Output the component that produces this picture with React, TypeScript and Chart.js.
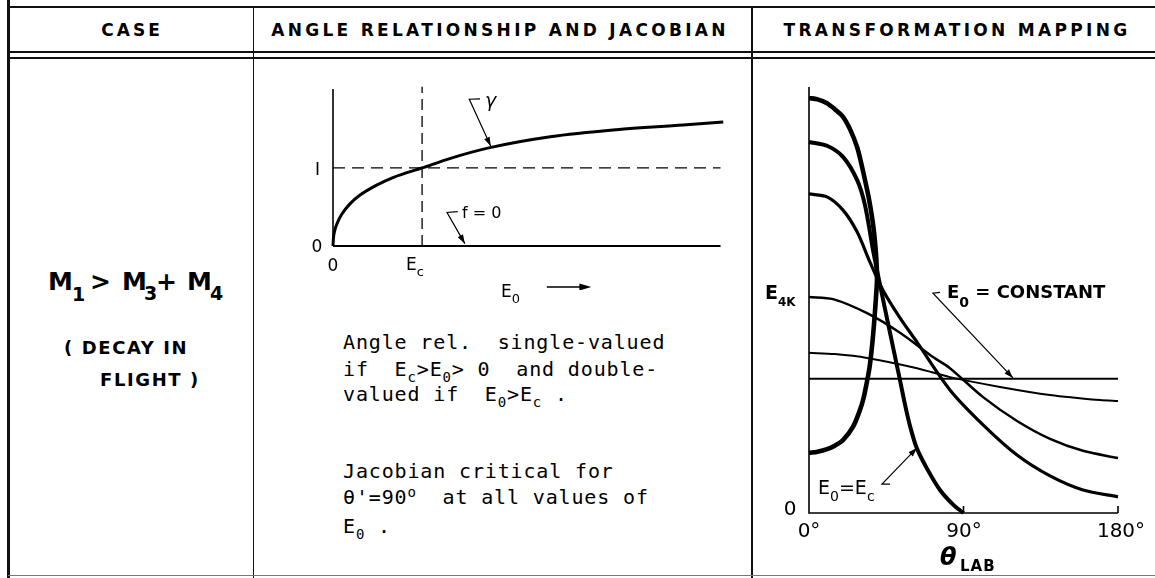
import React, { useEffect, useRef } from "react";
import { Chart, registerables } from "chart.js";
Chart.register(...registerables);

// ---------- Middle chart: gamma vs E0 (E0 in units of Ec) ----------
const gammaE0 = [0, 0.005, 0.02, 0.05, 0.1, 0.19, 0.3, 0.49, 0.68, 1.0, 1.31, 1.76, 2.44, 3.18, 3.93, 4.38];
const gammaVals = [0, 0.1, 0.2, 0.3, 0.41, 0.54, 0.65, 0.78, 0.88, 1.0, 1.12, 1.26, 1.4, 1.49, 1.55, 1.59];
const fZeroE0 = [0, 4.35];
const fZeroVals = [0, 0];
const unityE0 = [0, 4.35];
const unityVals = [1, 1];
const ecLineE0 = [1, 1];
const ecLineVals = [0, 2.04];
const midYAxisTop = 2.01;
const midXMax = 4.4;
const midYMax = 2.05;
// leaders (data units): [start of bar, end of bar], pointer from bar start to tip
const gammaLeaderBar = [[1.53, 1.88], [1.65, 1.885]];
const gammaLeaderTip = [1.77, 1.28];
const fLeaderBar = [[1.28, 0.43], [1.4, 0.44]];
const fLeaderTip = [1.48, 0.03];
const e0ArrowFrom = 2.4;
const e0ArrowTo = 2.9;

// ---------- Right chart: E4K vs theta_LAB ----------
const thetaA = [0, 5, 10.5, 15, 19.8, 24, 28, 30.5, 32.6, 34.8, 36.7, 38, 39, 39.5, 39.6, 39.0, 37.8, 36.5, 35.2, 33.6, 31.8, 29.7, 25.6, 19.8, 15, 10.5, 5, 0];
const energyA = [97.4, 97.1, 96.2, 94.8, 93.0, 90.0, 85.9, 82.0, 78.2, 74.0, 69.5, 65.5, 61.0, 57.5, 54.7, 50.5, 44.0, 38.3, 34.0, 30.5, 27.0, 24.2, 20.2, 17.1, 15.8, 15.0, 14.4, 14.1];
const thetaB = [0, 10.5, 19.8, 28.0, 32.6, 37.3, 41.4, 46.0, 53.0, 55.9, 58.8, 62.7, 68.5, 76.3, 84.1, 90];
const energyB = [87.1, 86.2, 83.6, 78.2, 72.3, 61.7, 53.5, 44.6, 31.2, 25.5, 20.5, 15.3, 10.6, 5.4, 1.9, 0];
const thetaC = [0, 10.5, 19.8, 28.0, 35.5, 43.1, 53.0, 62.9, 82.1, 101.4, 121.2, 140.4, 159.6, 180];
const energyC = [74.9, 74.2, 71.1, 66.0, 58.9, 52.3, 45.8, 40.1, 28.9, 20.7, 13.6, 8.7, 5.4, 3.8];
const thetaD = [0, 14.0, 33.8, 53.0, 72.2, 82.1, 101.4, 121.2, 140.4, 159.6, 180];
const energyD = [50.7, 50.2, 46.9, 42.3, 36.6, 34.0, 27.2, 21.6, 17.4, 14.6, 12.9];
const thetaE = [0, 15.1, 33.8, 62.9, 82.1, 111.3, 140.4, 169.5, 180];
const energyE = [37.6, 37.3, 36.4, 34.0, 31.9, 29.6, 27.7, 26.5, 26.3];
const thetaF = [0, 180];
const energyF = [31.5, 31.5];
const rightXMax = 180;
const rightYMax = 100;
const rightTickAngles = [90, 180];
const constLeaderBar = [[72.2, 51.6], [76.3, 51.8]];
const constLeaderTip = [118.8, 31.7];
const ecLeaderBar = [[42.5, 6.8], [47.2, 6.8]];
const ecLeaderTip = [62.9, 15.3];

const pts = (xs: number[], ys: number[]) => xs.map((x, i) => ({ x, y: ys[i] }));

function arrowHead(ctx: CanvasRenderingContext2D, x0: number, y0: number, x1: number, y1: number, len = 9, half = 3) {
  const a = Math.atan2(y1 - y0, x1 - x0);
  ctx.beginPath();
  ctx.moveTo(x1, y1);
  ctx.lineTo(x1 - len * Math.cos(a) + half * Math.sin(a), y1 - len * Math.sin(a) - half * Math.cos(a));
  ctx.lineTo(x1 - len * Math.cos(a) - half * Math.sin(a), y1 - len * Math.sin(a) + half * Math.cos(a));
  ctx.closePath();
  ctx.fill();
}

function drawLeader(chart: any, bar: number[][], tip: number[]) {
  const { ctx, scales } = chart;
  const px = (v: number[]) => [scales.x.getPixelForValue(v[0]), scales.y.getPixelForValue(v[1])];
  const b0 = px(bar[0]);
  const b1 = px(bar[1]);
  const t = px(tip);
  ctx.save();
  ctx.strokeStyle = "#000";
  ctx.fillStyle = "#000";
  ctx.lineWidth = 1.2;
  ctx.beginPath();
  ctx.moveTo(b1[0], b1[1]);
  ctx.lineTo(b0[0], b0[1]);
  ctx.lineTo(t[0], t[1]);
  ctx.stroke();
  arrowHead(ctx, b0[0], b0[1], t[0], t[1]);
  ctx.restore();
}

const midPlugin = {
  id: "midDecor",
  afterDatasetsDraw(chart: any) {
    const { ctx, scales } = chart;
    const x0 = scales.x.getPixelForValue(0);
    ctx.save();
    ctx.strokeStyle = "#000";
    ctx.fillStyle = "#000";
    ctx.lineWidth = 1.6;
    ctx.beginPath();
    ctx.moveTo(x0, scales.y.getPixelForValue(0));
    ctx.lineTo(x0, scales.y.getPixelForValue(midYAxisTop));
    ctx.stroke();
    // E0 direction arrow below the axis
    const ay = chart.chartArea.bottom + 41;
    const ax0 = scales.x.getPixelForValue(e0ArrowFrom);
    const ax1 = scales.x.getPixelForValue(e0ArrowTo);
    ctx.lineWidth = 1.3;
    ctx.beginPath();
    ctx.moveTo(ax0, ay);
    ctx.lineTo(ax1 - 6, ay);
    ctx.stroke();
    arrowHead(ctx, ax0, ay, ax1, ay, 12, 3.5);
    ctx.restore();
    drawLeader(chart, gammaLeaderBar, gammaLeaderTip);
    drawLeader(chart, fLeaderBar, fLeaderTip);
  },
};

const rightPlugin = {
  id: "rightDecor",
  beforeDatasetsDraw(chart: any) {
    const { ctx, scales } = chart;
    const x0 = scales.x.getPixelForValue(0);
    const y0 = scales.y.getPixelForValue(0);
    ctx.save();
    ctx.strokeStyle = "#000";
    ctx.lineWidth = 1.6;
    ctx.beginPath();
    ctx.moveTo(x0, scales.y.getPixelForValue(rightYMax));
    ctx.lineTo(x0, y0);
    ctx.lineTo(scales.x.getPixelForValue(rightXMax), y0);
    ctx.stroke();
    rightTickAngles.forEach((a) => {
      const xp = scales.x.getPixelForValue(a);
      ctx.beginPath();
      ctx.moveTo(xp, y0);
      ctx.lineTo(xp, y0 - 7);
      ctx.stroke();
    });
    ctx.restore();
  },
  afterDatasetsDraw(chart: any) {
    drawLeader(chart, constLeaderBar, constLeaderTip);
    drawLeader(chart, ecLeaderBar, ecLeaderTip);
  },
};

const line = (label: string, data: any[], width: number, extra: any = {}) => ({
  label,
  data,
  showLine: true,
  borderColor: "#000",
  backgroundColor: "#000",
  borderWidth: width,
  pointRadius: 0,
  tension: 0.3,
  clip: false,
  fill: false,
  ...extra,
});

type LP = { x: number; y: number; size?: number; bold?: boolean; mono?: boolean; ls?: number; anchor?: "left" | "center"; italic?: boolean; children?: any };
const L = ({ x, y, size = 17, bold = false, mono = false, ls = 0, anchor = "left", italic = false, children }: LP) => (
  <div
    style={{
      position: "absolute",
      left: x,
      top: y,
      transform: anchor === "center" ? "translate(-50%,-50%)" : "translate(0,-50%)",
      fontFamily: mono ? "'DejaVu Sans Mono', monospace" : "'DejaVu Sans', sans-serif",
      fontSize: size,
      fontWeight: bold ? "bold" : "normal",
      fontStyle: italic ? "italic" : "normal",
      letterSpacing: ls,
      whiteSpace: "pre",
      lineHeight: 1,
      color: "#000",
    }}
  >
    {children}
  </div>
);
const Sub = ({ s, dy, children, ls }: { s: number; dy: number; children: any; ls?: number }) => (
  <span style={{ fontSize: s, position: "relative", top: dy, letterSpacing: ls }}>{children}</span>
);

const Rule = ({ l, t, w, h, c = "#111" }: { l: number; t: number; w: number; h: number; c?: string }) => (
  <div style={{ position: "absolute", left: l, top: t, width: w, height: h, background: c }} />
);

export default function App() {
  const midRef = useRef<HTMLCanvasElement>(null);
  const rightRef = useRef<HTMLCanvasElement>(null);

  useEffect(() => {
    const mid = new Chart(midRef.current!, {
      type: "scatter",
      data: {
        datasets: [
          line("γ", pts(gammaE0, gammaVals), 3, { cubicInterpolationMode: "monotone" }),
          line("f = 0", pts(fZeroE0, fZeroVals), 2.2, { tension: 0 }),
          line("γ = 1", pts(unityE0, unityVals), 1.3, { tension: 0, borderDash: [12, 7] }),
          line("E0 = Ec", pts(ecLineE0, ecLineVals), 1.3, { tension: 0, borderDash: [11, 6] }),
        ],
      },
      options: {
        animation: false,
        responsive: false,
        devicePixelRatio: 1,
        layout: { padding: { left: 73, right: 25, top: 26, bottom: 44 } },
        plugins: { legend: { display: false }, tooltip: { enabled: false } },
        scales: {
          x: { type: "linear", display: false, min: 0, max: midXMax },
          y: { type: "linear", display: false, min: 0, max: midYMax },
        },
      },
      plugins: [midPlugin],
    });
    const right = new Chart(rightRef.current!, {
      type: "scatter",
      data: {
        datasets: [
          line("E0 > Ec", pts(thetaA, energyA), 4.6),
          line("E0 = Ec", pts(thetaB, energyB), 4),
          line("E0 < Ec (1)", pts(thetaC, energyC), 3.2),
          line("E0 < Ec (2)", pts(thetaD, energyD), 2.5),
          line("E0 < Ec (3)", pts(thetaE, energyE), 2),
          line("E0 = 0", pts(thetaF, energyF), 2, { tension: 0 }),
        ],
      },
      options: {
        animation: false,
        responsive: false,
        devicePixelRatio: 1,
        layout: { padding: { left: 49, right: 37, top: 27, bottom: 47 } },
        plugins: { legend: { display: false }, tooltip: { enabled: false } },
        scales: {
          x: { type: "linear", display: false, min: 0, max: rightXMax },
          y: { type: "linear", display: false, min: 0, max: rightYMax },
        },
      },
      plugins: [rightPlugin],
    });
    return () => {
      mid.destroy();
      right.destroy();
    };
  }, []);

  return (
    <div style={{ position: "fixed", left: 0, top: 0, width: 1155, height: 578, background: "#fff", overflow: "hidden" }}>
      {/* table rules */}
      <Rule l={8} t={6} w={1147} h={2} />
      <Rule l={8} t={51} w={1147} h={1.5} />
      <Rule l={8} t={57} w={1147} h={1.5} />
      <Rule l={7} t={0} w={2.5} h={578} />
      <Rule l={252.5} t={7} w={1.6} h={571} />
      <Rule l={751} t={7} w={1.6} h={571} />
      <Rule l={8} t={575} w={1147} h={1} c="#777" />

      {/* headers */}
      <L x={132} y={30} size={17} bold ls={3} anchor="center">CASE</L>
      <L x={500} y={30} size={17} bold ls={3.3} anchor="center">ANGLE RELATIONSHIP AND JACOBIAN</L>
      <L x={957} y={30} size={17} bold ls={3.3} anchor="center">TRANSFORMATION MAPPING</L>

      {/* case column */}
      <L x={48} y={281} size={25} bold>M</L>
      <L x={72} y={294} size={19} bold>1</L>
      <L x={90} y={281} size={25} bold>&gt;</L>
      <L x={122} y={281} size={25} bold>M</L>
      <L x={144} y={293} size={19} bold>3</L>
      <L x={156} y={281} size={25} bold>+</L>
      <L x={187} y={281} size={25} bold>M</L>
      <L x={210} y={293} size={19} bold>4</L>
      <L x={64} y={348} size={18} bold ls={1.6}>( DECAY IN</L>
      <L x={100} y={380} size={18} bold ls={1.6}>FLIGHT )</L>

      {/* middle chart */}
      <canvas ref={midRef} width={490} height={230} style={{ position: "absolute", left: 260, top: 60, width: 490, height: 230 }} />
      <L x={317} y={246} size={17} anchor="center">0</L>
      <L x={317.5} y={169} size={17} anchor="center">I</L>
      <L x={333} y={265} size={17} anchor="center">0</L>
      <L x={406} y={264} size={17}>E<Sub s={13} dy={6}>c</Sub></L>
      <L x={501} y={291} size={17}>E<Sub s={13} dy={6}>0</Sub></L>
      <L x={485} y={100} size={19} italic>γ</L>
      <L x={462} y={213} size={16}>f = 0</L>

      {/* middle text */}
      <L x={343} y={342} size={20} mono ls={0.85}>Angle rel.  single-valued</L>
      <L x={343} y={369} size={20} mono ls={0.85}>
        if  E<Sub s={14} dy={6}>c</Sub>&gt;E<Sub s={14} dy={6}>0</Sub>&gt; 0  and double-
      </L>
      <L x={343} y={394} size={20} mono ls={0.85}>
        valued if  E<Sub s={14} dy={6}>0</Sub>&gt;E<Sub s={14} dy={6}>c</Sub> .
      </L>
      <L x={343} y={471} size={20} mono ls={0.85}>Jacobian critical for</L>
      <L x={343} y={497} size={20} mono ls={0.85}>
        θ'=90<Sub s={14} dy={-7}>o</Sub>  at all values of
      </L>
      <L x={343} y={526} size={20} mono ls={0.85}>
        E<Sub s={14} dy={6}>0</Sub> .
      </L>

      {/* right chart */}
      <canvas ref={rightRef} width={395} height={500} style={{ position: "absolute", left: 760, top: 60, width: 395, height: 500 }} />
      <L x={765} y={292} size={19} bold>E<Sub s={12} dy={7}>4K</Sub></L>
      <L x={947} y={292} size={18} bold>E<Sub s={14} dy={9}>0</Sub> = CONSTANT</L>
      <L x={818} y={487} size={19}>E<Sub s={14} dy={7}>0</Sub>=E<Sub s={14} dy={7}>c</Sub></L>
      <L x={790} y={508} size={20} anchor="center">0</L>
      <L x={809} y={530} size={20} anchor="center">0°</L>
      <L x={964} y={530} size={20} anchor="center">90°</L>
      <L x={1121} y={530} size={20} anchor="center">180°</L>
      <L x={940} y={557} size={24} bold italic>θ</L>
      <L x={960} y={566} size={15} bold ls={1}>LAB</L>
    </div>
  );
}
